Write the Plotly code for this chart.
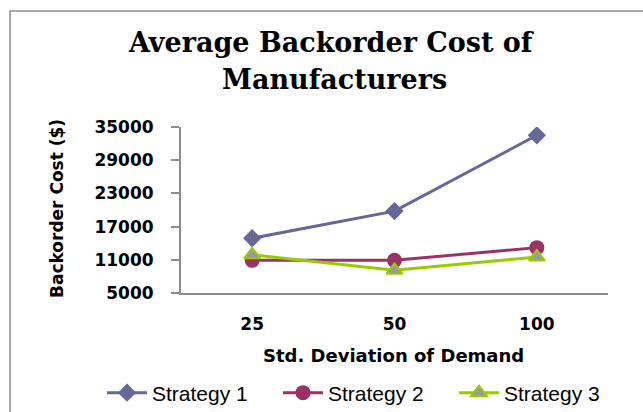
import plotly.graph_objects as go

# Std. deviation of demand (categories) and backorder cost per strategy
categories = ["25", "50", "100"]
strategy_1 = [14900, 19800, 33500]
strategy_2 = [10900, 10900, 13200]
strategy_3 = [11900, 9100, 11500]
y_ticks = [5000, 11000, 17000, 23000, 29000, 35000]

W, H = 643, 412
L, R, T, B = 181, 35, 127, 119
pw, ph = W - L - R, H - T - B


def px_x(x):
    return (x - L) / pw


def px_y(y):
    return (H - B - y) / ph


fig = go.Figure()
fig.add_trace(go.Scatter(
    x=categories, y=strategy_1, name="Strategy 1", mode="lines+markers",
    line=dict(color="#666699", width=3),
    marker=dict(symbol="diamond", size=14, color="#666699"),
))
fig.add_trace(go.Scatter(
    x=categories, y=strategy_2, name="Strategy 2", mode="lines+markers",
    line=dict(color="#993366", width=3),
    marker=dict(symbol="circle", size=15, color="#993366"),
))
fig.add_trace(go.Scatter(
    x=categories, y=strategy_3, name="Strategy 3", mode="lines+markers",
    line=dict(color="#99cc00", width=3),
    marker=dict(symbol="triangle-up", size=14, color="#999999",
                line=dict(color="#99cc00", width=2)),
))

axis_font = dict(family="DejaVu Sans", size=17, color="#000000", weight="bold")

fig.update_layout(
    width=W, height=H,
    margin=dict(l=L, r=R, t=T, b=B, pad=0, autoexpand=False),
    paper_bgcolor="white", plot_bgcolor="white",
    showlegend=True,
    legend=dict(
        orientation="h", x=px_x(102), y=px_y(393), xanchor="left", yanchor="middle",
        font=dict(family="Liberation Sans", size=21, color="#000000"),
        itemwidth=40, entrywidth=121, entrywidthmode="pixels",
        tracegroupgap=0, bgcolor="rgba(0,0,0,0)",
    ),
    xaxis=dict(
        type="category", range=[-0.5, 2.5], automargin=False,
        showline=True, linecolor="#8c8c8c", linewidth=2,
        showgrid=False, zeroline=False, ticks="",
        tickfont=axis_font, ticklabelstandoff=15,
    ),
    yaxis=dict(
        range=[5000, 35000], tickvals=y_ticks, ticktext=[str(v) for v in y_ticks],
        automargin=False,
        showline=True, linecolor="#8c8c8c", linewidth=2,
        showgrid=False, zeroline=False,
        ticks="outside", ticklen=8, tickwidth=2, tickcolor="#8c8c8c",
        tickfont=axis_font, ticklabelstandoff=14,
    ),
)

# Chart title (two lines)
title_font = dict(family="DejaVu Serif", size=27, color="#000000", weight="bold")
fig.add_annotation(text="Average Backorder Cost of", xref="paper", yref="paper",
                   x=px_x(331), y=px_y(43), xanchor="center", yanchor="middle",
                   showarrow=False, font=title_font)
fig.add_annotation(text="Manufacturers", xref="paper", yref="paper",
                   x=px_x(334), y=px_y(79), xanchor="center", yanchor="middle",
                   showarrow=False, font=title_font)

# Axis titles
fig.add_annotation(text="Backorder Cost ($)", xref="paper", yref="paper",
                   x=px_x(57), y=px_y(209), xanchor="center", yanchor="middle",
                   textangle=-90, showarrow=False,
                   font=dict(family="DejaVu Sans", size=17, color="#000000", weight="bold"))
fig.add_annotation(text="Std. Deviation of Demand", xref="paper", yref="paper",
                   x=px_x(393), y=px_y(355), xanchor="center", yanchor="middle",
                   showarrow=False,
                   font=dict(family="DejaVu Sans", size=18, color="#000000", weight="bold"))

# Chart frame
fig.add_shape(type="rect", xref="paper", yref="paper",
              x0=px_x(10), x1=px_x(700), y0=px_y(450), y1=px_y(11),
              line=dict(color="#8c8c8c", width=1.5), fillcolor="rgba(0,0,0,0)",
              layer="below")

fig.write_html("out.html")
